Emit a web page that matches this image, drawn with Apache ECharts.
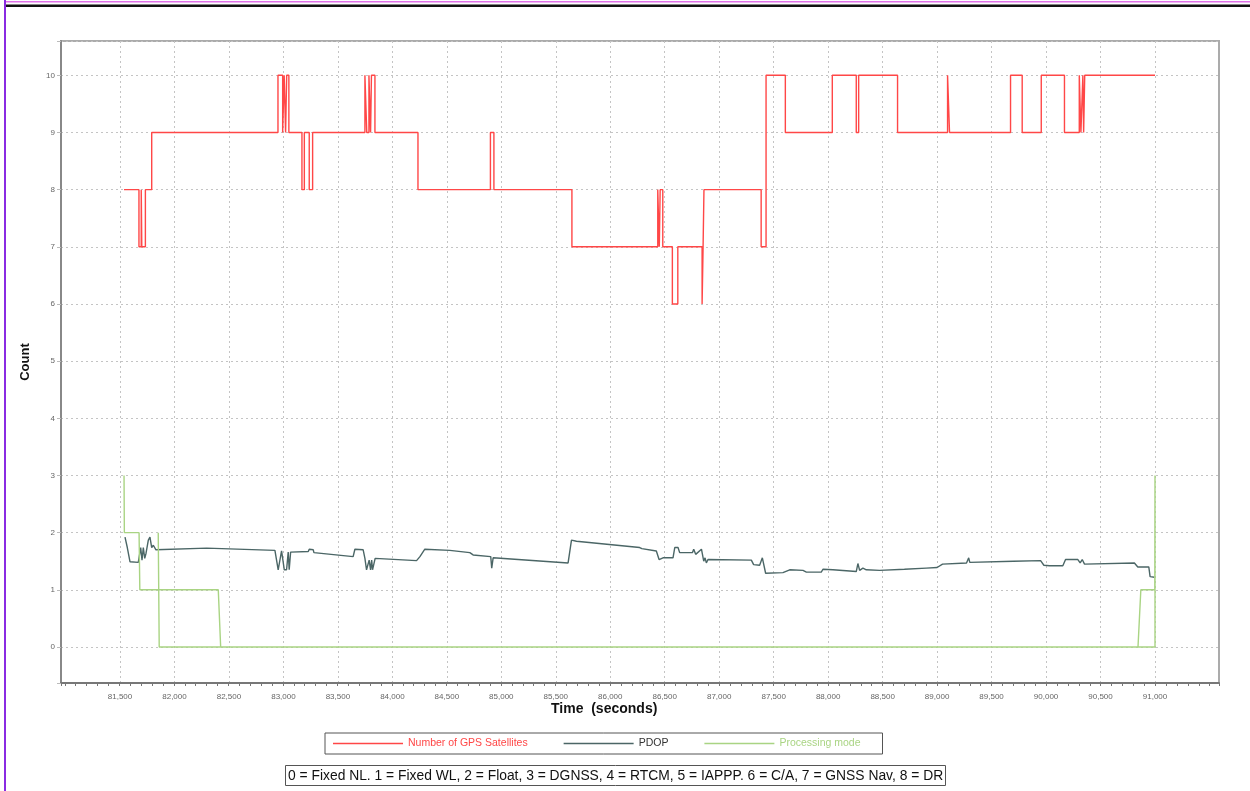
<!DOCTYPE html>
<html>
<head>
<meta charset="utf-8">
<title>GPS satellites, PDOP and processing mode</title>
<script src="https://cdn.jsdelivr.net/npm/echarts@6/dist/echarts.min.js"></script>
<style>
  html, body { margin: 0; padding: 0; background: #fff; }
  #chart { width: 1250px; height: 791px; }
</style>
</head>
<body>
<div id="chart"></div>
<script>
// Axis ranges. The plot box is wider than the labelled span, so the labelled
// ticks (81,500 .. 91,000) live on a second, narrower grid that carries the data.
const X_MIN = 80965, X_MAX = 91585;
const X_TICK_MIN = 81500, X_TICK_MAX = 91000, X_TICK_STEP = 500;
const Y_MIN = -0.63, Y_MAX = 10.6;

const NAMES = ['Number of GPS Satellites', 'PDOP', 'Processing mode'];
const COLORS = ['#ff4747', '#4b6666', '#a9d483'];
const MODE_NOTE = '0 = Fixed NL. 1 = Fixed WL, 2 = Float, 3 = DGNSS, 4 = RTCM, 5 = IAPPP. 6 = C/A, 7 = GNSS Nav, 8 = DR';

// [time s, count] at every change; drawn as steps
const satellites = [
  [81537, 8], [81674, 7], [81695, 8], [81700, 7], [81733, 8], [81791, 9],
  [82950, 10], [82993, 9], [83007, 10], [83020, 9], [83030, 10], [83050, 9],
  [83170, 8], [83192, 9], [83237, 8], [83268, 9],
  [83748, 10], [83765, 9], [83785, 10], [83800, 9], [83808, 10], [83840, 9],
  [84235, 8], [84900, 9], [84932, 8], [85648, 7],
  [86436, 8], [86450, 7], [86458, 8], [86482, 7], [86570, 6], [86620, 7],
  [86843, 6], [86852, 7], [86860, 8], [87385, 7], [87430, 10],
  [87607, 9], [88038, 10], [88258, 9], [88280, 10], [88637, 9], [89096, 10], [89114, 9],
  [89674, 10], [89781, 9], [89956, 10], [90169, 9], [90305, 10], [90320, 9],
  [90338, 10], [90345, 9], [90355, 10], [91000, 10],
];

// [time s, PDOP]
const pdop = [
  [81546, 1.92], [81567, 1.74], [81592, 1.49], [81668, 1.48], [81690, 1.74], [81702, 1.52],
  [81714, 1.74], [81727, 1.55], [81739, 1.64], [81760, 1.87], [81775, 1.92], [81791, 1.74],
  [81806, 1.78], [81830, 1.70], [82295, 1.73], [82922, 1.69], [82952, 1.35], [82970, 1.35],
  [82983, 1.68], [82998, 1.68], [83008, 1.35], [83029, 1.35], [83044, 1.66], [83053, 1.35],
  [83066, 1.66], [83228, 1.67], [83237, 1.71], [83274, 1.70], [83280, 1.65], [83640, 1.58],
  [83656, 1.71], [83732, 1.70], [83748, 1.55], [83763, 1.35], [83787, 1.52], [83800, 1.35],
  [83810, 1.52], [83818, 1.35], [83842, 1.55], [84222, 1.51], [84253, 1.58], [84298, 1.71],
  [84527, 1.69], [84711, 1.65], [84741, 1.61], [84903, 1.58], [84912, 1.38], [84925, 1.56],
  [85613, 1.47], [85644, 1.87], [85690, 1.85], [86270, 1.74], [86280, 1.77], [86290, 1.72],
  [86423, 1.68], [86448, 1.53], [86484, 1.56], [86576, 1.56], [86592, 1.74], [86622, 1.74],
  [86637, 1.65], [86754, 1.65], [86766, 1.71], [86784, 1.62], [86837, 1.71], [86858, 1.50],
  [86870, 1.56], [86882, 1.47], [86897, 1.53], [87295, 1.52], [87316, 1.44], [87371, 1.43],
  [87396, 1.56], [87411, 1.58], [87426, 1.29], [87585, 1.30], [87647, 1.35], [87769, 1.34],
  [87800, 1.31], [87937, 1.31], [87952, 1.36], [88044, 1.35], [88059, 1.32], [88258, 1.32],
  [88273, 1.46], [88289, 1.34], [88319, 1.38], [88350, 1.35], [88472, 1.34], [88700, 1.36],
  [88900, 1.38], [89000, 1.39], [89050, 1.45], [89270, 1.47], [89290, 1.56], [89300, 1.48],
  [89700, 1.50], [89950, 1.51], [89980, 1.43], [90032, 1.42], [90154, 1.42], [90179, 1.53],
  [90292, 1.53], [90313, 1.47], [90332, 1.53], [90353, 1.45], [90811, 1.47], [90842, 1.40],
  [90943, 1.40], [90955, 1.23], [90995, 1.22],
];

// Forward pass, then the reverse pass drawn back from the end of the run
const processingMode = [
  [81537, 3], [81540, 2], [81675, 2], [81682, 1], [82402, 1], [82424, 0], [91000, 0],
  [91000, 3], [90998, 1], [90870, 1], [90844, 0], [81860, 0], [81851, 2],
];

const chart = echarts.init(document.getElementById('chart'), null, { renderer: 'canvas' });
const FONT = '"Liberation Sans", Arial, sans-serif';
const dotted = { color: '#c4c4c4', width: 1, type: [2, 3] };

const lineSeries = (i, data, extra) => ({
  name: NAMES[i], type: 'line', data, symbol: 'none', clip: false,
  xAxisIndex: 1, yAxisIndex: 1,
  lineStyle: { color: COLORS[i], width: 1.4 }, itemStyle: { color: COLORS[i] },
  ...extra,
});

chart.setOption({
  animation: false,
  textStyle: { fontFamily: FONT },
  grid: [
    { left: 61, right: 31, top: 41, bottom: 108, show: true, borderColor: '#ababab', borderWidth: 2 },
    { left: 120, right: 95, top: 41, bottom: 108 },
  ],
  xAxis: [
    {
      gridIndex: 0, type: 'value', min: X_MIN, max: X_MAX, splitNumber: 21,
      axisLine: { onZero: false, lineStyle: { color: '#777', width: 2 } },
      axisTick: { show: true, length: 3, lineStyle: { color: '#777' } },
      minorTick: { show: true, splitNumber: 5, length: 3, lineStyle: { color: '#777' } },
      axisLabel: { show: false }, splitLine: { show: false },
    },
    {
      gridIndex: 1, type: 'value', min: X_TICK_MIN, max: X_TICK_MAX, interval: X_TICK_STEP,
      axisLine: { show: false }, axisTick: { show: false },
      axisLabel: { fontSize: 8, color: '#666', margin: 10, formatter: (v) => v.toLocaleString('en-US') },
      splitLine: { show: true, lineStyle: dotted },
    },
  ],
  yAxis: [
    {
      gridIndex: 0, type: 'value', min: Y_MIN, max: Y_MAX, splitNumber: 11,
      name: 'Count', nameLocation: 'middle', nameGap: 29,
      nameTextStyle: { fontSize: 13, fontWeight: 'bold', color: '#111' },
      axisLine: { show: true, onZero: false, lineStyle: { color: '#888', width: 2 } },
      axisTick: { show: true, length: 4, lineStyle: { color: '#bbb' } },
      axisLabel: {
        fontSize: 8, color: '#666', margin: 6,
        formatter: (v) => (Number.isInteger(v) ? String(v) : ''),
      },
      splitLine: { show: true, lineStyle: dotted },
    },
    { gridIndex: 1, type: 'value', min: Y_MIN, max: Y_MAX, show: false },
  ],
  title: [
    { text: 'Time  (seconds)', left: 551, top: 702, padding: 0,
      textStyle: { fontSize: 14, fontWeight: 'bold', color: '#111', fontFamily: FONT } },
    { text: MODE_NOTE, left: 285, top: 765, padding: [4, 3, 3, 3],
      borderColor: '#555', borderWidth: 1,
      textStyle: { fontSize: 13.85, fontWeight: 'normal', color: '#111', fontFamily: FONT } },
  ],
  legend: {
    left: 325, top: 733, padding: [5, 22, 5, 8], itemWidth: 70, itemHeight: 1.5, itemGap: 36,
    icon: 'rect', borderColor: '#555', borderWidth: 1,
    textStyle: { fontSize: 10.5, fontFamily: FONT },
    data: NAMES.map((name, i) => ({ name, textStyle: { color: i === 1 ? '#333' : COLORS[i] } })),
  },
  graphic: [
    // page frame: pink / black rules along the top, purple rule down the left
    { type: 'rect', shape: { x: 5, y: 1, width: 1245, height: 1.5 }, style: { fill: '#e070e8' } },
    { type: 'rect', shape: { x: 6, y: 4.5, width: 1244, height: 2.5 }, style: { fill: '#111' } },
    { type: 'rect', shape: { x: 4, y: 0, width: 2, height: 791 }, style: { fill: '#8a2be2' } },
  ],
  series: [
    lineSeries(0, satellites, { step: 'end' }),
    lineSeries(1, pdop),
    lineSeries(2, processingMode),
  ],
});
</script>
</body>
</html>
